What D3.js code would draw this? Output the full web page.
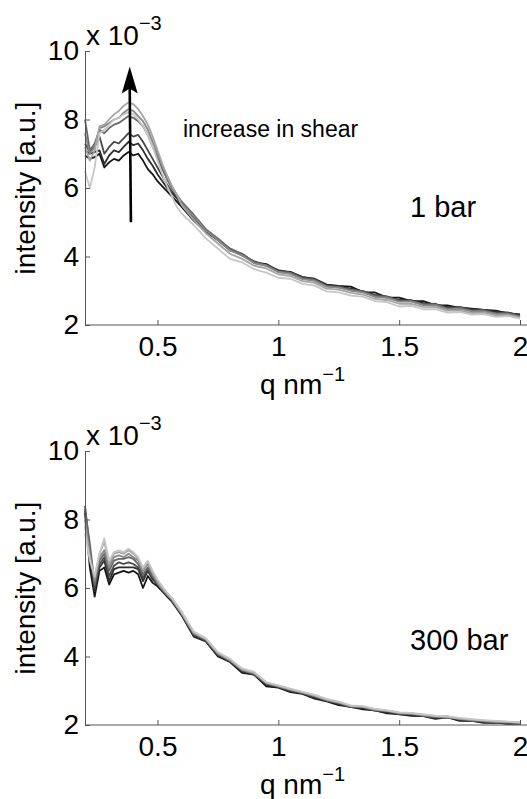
<!DOCTYPE html>
<html>
<head>
<meta charset="utf-8">
<script src="https://cdn.jsdelivr.net/npm/d3@7"></script>
<style>
  body { margin: 0; background: #fff; }
  text { font-family: "Liberation Sans", Arial, sans-serif; fill: #000; }
  .axis path, .axis line { stroke: #555; stroke-width: 1; }
  .axis text { font-size: 28px; fill: #000; }
</style>
</head>
<body>
<svg width="527" height="799"></svg>
<script>
const svg = d3.select('svg');

// q values (nm^-1), shared by all curves
const qValues = [0.20, 0.22, 0.24, 0.26, 0.28, 0.30, 0.32, 0.34, 0.36, 0.38, 0.40,
  0.42, 0.44, 0.46, 0.48, 0.50, 0.52, 0.54, 0.56, 0.58, 0.60,
  0.65, 0.70, 0.75, 0.80, 0.85, 0.90, 0.95, 1.00, 1.05, 1.10, 1.15, 1.20, 1.25, 1.30,
  1.35, 1.40, 1.45, 1.50, 1.55, 1.60, 1.65, 1.70, 1.75, 1.80, 1.85, 1.90, 1.95, 2.00];

const xTicks = [0.5, 1, 1.5, 2];
const yTicks = [2, 4, 6, 8, 10];

// gray level of each curve, dark (low shear) to light (high shear)
const curveColors = ['#151515', '#2e2e2e', '#474747', '#676767', '#878787', '#a4a4a4', '#c6c6c6'];

// intensity x 10^-3, 1 bar
const top0 = [6.95, 6.85, 6.9, 7.0, 6.6, 6.75, 6.85, 6.8, 6.95, 7.05, 6.95, 7.0, 6.8, 6.55, 6.4, 6.2, 6.05, 5.9, 5.75, 5.6, 5.45,
  5.05, 4.72, 4.48, 4.18, 4.08, 3.83, 3.78, 3.58, 3.55, 3.4, 3.35, 3.18, 3.14, 3.12, 2.96, 2.95, 2.8, 2.8, 2.7, 2.7, 2.58, 2.57, 2.5, 2.48, 2.44, 2.42, 2.34, 2.31];
const top1 = [7.1, 7.0, 7.05, 7.1, 6.7, 6.95, 7.1, 7.05, 7.2, 7.35, 7.25, 7.3, 7.1, 6.85, 6.65, 6.4, 6.2, 6.0, 5.85, 5.7, 5.5,
  5.12, 4.74, 4.5, 4.2, 4.03, 3.86, 3.74, 3.6, 3.53, 3.4, 3.33, 3.16, 3.13, 3.06, 2.98, 2.88, 2.83, 2.73, 2.72, 2.64, 2.6, 2.52, 2.52, 2.46, 2.44, 2.38, 2.36, 2.29];
const top2 = [7.3, 7.05, 7.2, 7.5, 7.0, 7.2, 7.35, 7.3, 7.45, 7.6, 7.5, 7.55, 7.35, 7.1, 6.85, 6.6, 6.35, 6.1, 5.9, 5.75, 5.55,
  5.18, 4.78, 4.48, 4.23, 4.05, 3.84, 3.73, 3.58, 3.51, 3.38, 3.33, 3.13, 3.12, 3.03, 2.99, 2.86, 2.83, 2.7, 2.72, 2.6, 2.62, 2.48, 2.52, 2.42, 2.44, 2.34, 2.36, 2.26];
const top3 = [8.0, 7.1, 7.3, 7.7, 7.6, 7.75, 7.85, 7.9, 8.0, 8.1, 8.05, 7.95, 7.8, 7.55, 7.2, 6.9, 6.55, 6.25, 6.0, 5.8, 5.6,
  5.22, 4.8, 4.53, 4.23, 4.08, 3.83, 3.75, 3.56, 3.53, 3.36, 3.32, 3.14, 3.1, 3.03, 2.97, 2.84, 2.82, 2.7, 2.7, 2.6, 2.6, 2.48, 2.5, 2.42, 2.42, 2.34, 2.34, 2.25];
const top4 = [7.6, 7.0, 7.2, 7.75, 7.8, 7.9, 8.0, 8.05, 8.2, 8.3, 8.25, 8.1, 7.95, 7.7, 7.35, 7.0, 6.65, 6.35, 6.05, 5.8, 5.55,
  5.17, 4.76, 4.48, 4.18, 4.03, 3.8, 3.73, 3.54, 3.49, 3.34, 3.29, 3.12, 3.09, 3.0, 2.95, 2.82, 2.79, 2.68, 2.68, 2.58, 2.57, 2.46, 2.47, 2.4, 2.4, 2.32, 2.32, 2.24];
const top5 = [7.2, 6.8, 7.1, 7.8, 7.85, 8.0, 8.15, 8.25, 8.4, 8.5, 8.45, 8.3, 8.1, 7.85, 7.5, 7.1, 6.7, 6.35, 6.05, 5.8, 5.5,
  5.07, 4.68, 4.38, 4.08, 3.93, 3.73, 3.65, 3.48, 3.43, 3.28, 3.23, 3.06, 3.03, 2.94, 2.89, 2.76, 2.73, 2.62, 2.62, 2.53, 2.52, 2.42, 2.42, 2.35, 2.36, 2.28, 2.29, 2.21];
const top6 = [6.5, 6.0, 6.6, 7.6, 7.7, 7.85, 8.0, 8.05, 8.15, 8.2, 8.15, 8.0, 7.8, 7.55, 7.2, 6.8, 6.4, 6.05, 5.75, 5.45, 5.25,
  4.92, 4.53, 4.23, 3.93, 3.83, 3.63, 3.53, 3.38, 3.35, 3.2, 3.15, 2.98, 2.95, 2.86, 2.83, 2.7, 2.67, 2.54, 2.56, 2.46, 2.46, 2.36, 2.38, 2.3, 2.32, 2.24, 2.26, 2.19];

// intensity x 10^-3, 300 bar
const bot0 = [8.2, 6.6, 5.75, 6.5, 6.6, 6.1, 6.4, 6.45, 6.5, 6.45, 6.5, 6.4, 6.0, 6.35, 6.15, 6.05, 5.9, 5.75, 5.6, 5.4, 5.2,
  4.58, 4.44, 4.0, 3.84, 3.52, 3.47, 3.13, 3.09, 2.96, 2.91, 2.77, 2.69, 2.58, 2.53, 2.46, 2.43, 2.34, 2.32, 2.27, 2.26, 2.18, 2.22, 2.12, 2.12, 2.06, 2.07, 2.03, 2.04];
const bot1 = [8.3, 6.9, 5.9, 6.6, 6.8, 6.2, 6.55, 6.6, 6.6, 6.6, 6.6, 6.55, 6.2, 6.5, 6.25, 6.1, 5.95, 5.8, 5.62, 5.42, 5.22,
  4.61, 4.45, 4.03, 3.86, 3.56, 3.47, 3.17, 3.11, 2.99, 2.92, 2.8, 2.71, 2.61, 2.52, 2.49, 2.42, 2.37, 2.31, 2.29, 2.27, 2.2, 2.23, 2.14, 2.12, 2.09, 2.07, 2.05, 2.04];
const bot2 = [8.4, 7.1, 6.0, 6.7, 6.9, 6.35, 6.65, 6.75, 6.7, 6.75, 6.7, 6.6, 6.3, 6.55, 6.3, 6.1, 5.95, 5.8, 5.65, 5.45, 5.25,
  4.64, 4.47, 4.06, 3.87, 3.58, 3.5, 3.2, 3.11, 3.02, 2.93, 2.82, 2.72, 2.63, 2.54, 2.51, 2.44, 2.39, 2.33, 2.31, 2.27, 2.22, 2.25, 2.16, 2.13, 2.1, 2.08, 2.06, 2.05];
const bot3 = [8.3, 7.3, 6.1, 6.8, 7.0, 6.5, 6.8, 6.85, 6.85, 6.9, 6.85, 6.7, 6.4, 6.6, 6.35, 6.15, 5.95, 5.8, 5.65, 5.45, 5.25,
  4.66, 4.48, 4.07, 3.88, 3.6, 3.49, 3.21, 3.13, 3.01, 2.94, 2.84, 2.71, 2.65, 2.53, 2.53, 2.43, 2.41, 2.33, 2.33, 2.27, 2.23, 2.21, 2.18, 2.13, 2.11, 2.08, 2.08, 2.05];
const bot4 = [8.0, 7.0, 6.2, 6.9, 7.1, 6.6, 6.9, 6.95, 6.9, 7.0, 6.9, 6.8, 6.5, 6.7, 6.4, 6.15, 5.95, 5.8, 5.66, 5.45, 5.25,
  4.68, 4.5, 4.09, 3.89, 3.61, 3.51, 3.23, 3.13, 3.03, 2.95, 2.85, 2.73, 2.65, 2.55, 2.53, 2.45, 2.41, 2.35, 2.33, 2.29, 2.25, 2.23, 2.19, 2.15, 2.13, 2.09, 2.09, 2.06];
const bot5 = [7.8, 6.9, 6.3, 7.0, 7.35, 6.7, 7.0, 7.05, 7.0, 7.1, 7.0, 6.85, 6.55, 6.75, 6.45, 6.2, 6.0, 5.85, 5.7, 5.5, 5.3,
  4.7, 4.52, 4.1, 3.91, 3.63, 3.53, 3.24, 3.15, 3.05, 2.96, 2.87, 2.75, 2.67, 2.56, 2.54, 2.46, 2.42, 2.36, 2.34, 2.3, 2.26, 2.24, 2.19, 2.16, 2.13, 2.11, 2.09, 2.07];
const bot6 = [7.6, 6.8, 6.35, 7.0, 7.45, 6.8, 7.05, 7.1, 7.05, 7.15, 7.05, 6.9, 6.6, 6.8, 6.5, 6.25, 6.05, 5.85, 5.7, 5.5, 5.3,
  4.73, 4.53, 4.13, 3.93, 3.65, 3.55, 3.25, 3.16, 3.06, 2.97, 2.88, 2.76, 2.68, 2.57, 2.55, 2.47, 2.43, 2.37, 2.35, 2.31, 2.27, 2.25, 2.21, 2.17, 2.14, 2.12, 2.1, 2.08];

const topSeries = [top0, top1, top2, top3, top4, top5, top6];
const botSeries = [bot0, bot1, bot2, bot3, bot4, bot5, bot6];

// arrow "increase in shear", in data units [q, intensity]
const arrowFrom = [0.39, 5.0];
const arrowTo = [0.385, 9.55];

const margin = {left: 85, right: 7};
const plotH = 274;

const xScale = d3.scaleLinear()
  .domain([0.2, 2])
  .range([margin.left, 527 - margin.right]);

const drawPanel = (top, series, label, withArrow) => {
  const yScale = d3.scaleLinear().domain([2, 10]).range([top + plotH, top]);
  const g = svg.append('g');

  const line = d3.line()
    .x((d, i) => xScale(qValues[i]))
    .y(d => yScale(d));

  g.selectAll('path.curve').data(series)
    .enter().append('path')
    .attr('class', 'curve')
    .attr('d', line)
    .attr('fill', 'none')
    .attr('stroke', (d, i) => curveColors[i])
    .attr('stroke-width', 1.8)
    .attr('stroke-linejoin', 'round');

  // MATLAB style: ticks point inwards
  g.append('g')
    .attr('class', 'axis')
    .attr('transform', `translate(0, ${top + plotH})`)
    .call(d3.axisBottom(xScale).tickValues(xTicks).tickFormat(d3.format('')).tickSize(-5).tickSizeOuter(0).tickPadding(11))
    .call(a => a.select('.domain').attr('d', `M${xScale(0.2)},0H527`));

  g.append('g')
    .attr('class', 'axis')
    .attr('transform', `translate(${margin.left}, 0)`)
    .call(d3.axisLeft(yScale).tickValues(yTicks).tickSize(-5).tickSizeOuter(0).tickPadding(6));

  g.selectAll('.axis text').style('font-family', '"Liberation Sans", Arial, sans-serif');

  // exponent
  const ex = g.append('text')
    .attr('x', 86)
    .attr('y', top - 6)
    .attr('font-size', 28);
  ex.append('tspan').text('x 10');
  ex.append('tspan').attr('dy', -15).attr('font-size', 20).text('\u22123');

  // axis labels
  const xl = g.append('text')
    .attr('x', (xScale(0.2) + xScale(2)) / 2)
    .attr('y', top + plotH + 69)
    .attr('text-anchor', 'middle')
    .attr('font-size', 28);
  xl.append('tspan').text('q nm');
  xl.append('tspan').attr('dy', -13).attr('font-size', 20).text('\u22121');

  g.append('text')
    .attr('transform', `translate(35, ${top + plotH / 2}) rotate(-90)`)
    .attr('text-anchor', 'middle')
    .attr('font-size', 28)
    .text('intensity [a.u.]');

  g.append('text')
    .attr('x', label.x)
    .attr('y', top + label.dy)
    .attr('font-size', 29)
    .text(label.text);

  if (withArrow) {
    const x0 = xScale(arrowFrom[0]), y0 = yScale(arrowFrom[1]);
    const x1 = xScale(arrowTo[0]), y1 = yScale(arrowTo[1]);
    g.append('line')
      .attr('x1', x0).attr('y1', y0)
      .attr('x2', x1).attr('y2', y1 + 20)
      .attr('stroke', '#000')
      .attr('stroke-width', 2.6);
    g.append('path')
      .attr('d', `M${x1},${y1} L${x1 + 8},${y1 + 27} L${x1},${y1 + 22} L${x1 - 8},${y1 + 27} Z`)
      .attr('fill', '#000');

    g.append('text')
      .attr('x', 183)
      .attr('y', top + 86)
      .attr('font-size', 23)
      .text('increase in shear');
  }
};

drawPanel(51, topSeries, {text: '1 bar', x: 410, dy: 166}, true);
drawPanel(451, botSeries, {text: '300 bar', x: 410, dy: 199}, false);
</script>
</body>
</html>
